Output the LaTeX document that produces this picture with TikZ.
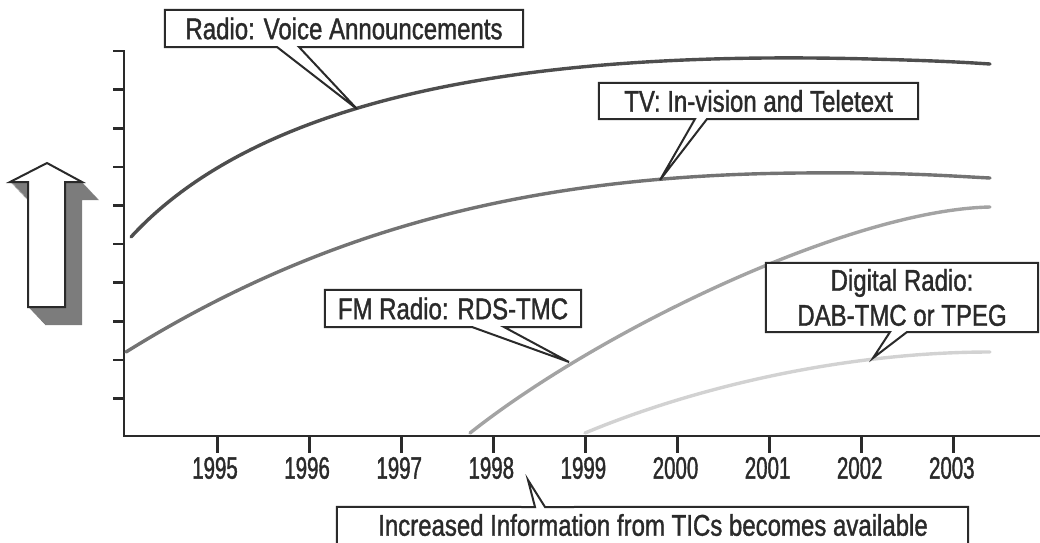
\documentclass[tikz,border=0pt]{standalone}
\usepackage{fontspec}
\setmainfont{Liberation Sans}[FakeStretch=0.8, FakeBold=1.2]
\newfontfamily\yearfont{Liberation Sans}[FakeStretch=0.66, FakeBold=1.2]
\definecolor{ink}{HTML}{2A2A2A}
\definecolor{cradio}{HTML}{4E4E4E}
\definecolor{ctv}{HTML}{737373}
\definecolor{cfm}{HTML}{A3A3A3}
\definecolor{cdab}{HTML}{D2D2D2}
\definecolor{shadowgray}{HTML}{7C7C7C}
\tikzset{
  axisline/.style={line width=2.6pt, draw=ink},
  ytick/.style={line width=2.6pt, draw=ink},
  xtick/.style={line width=3pt, draw=ink},
  curve/.style={line width=3.4pt, line cap=round},
  boxlabel/.style={draw=none, inner sep=0pt, font=\fontsize{30}{33}\selectfont, text=ink, align=center},
  calloutshape/.style={draw=ink, fill=white, line width=2pt, line join=miter},
  yearlabel/.style={inner sep=0pt, font=\yearfont\fontsize{31}{33}\selectfont, text=ink},
}
\begin{document}
\begin{tikzpicture}[x=1pt, y=-1pt]
\useasboundingbox (0,0) rectangle (1040,542);
% shadowed arrow
\foreach \k in {0,0.5,...,17}{
  \fill[shadowgray] ({47+\k},{163+\k*18/17}) -- ({82+\k},{182+\k*18/17}) -- ({65+\k},{182+\k*18/17}) -- ({65+\k},{307+\k*18/17}) -- ({28+\k},{307+\k*18/17}) -- ({28+\k},{182+\k*18/17}) -- ({10+\k},{182+\k*18/17}) -- cycle;
}
\draw[fill=white, draw=ink, line width=2pt, line join=miter] (47,163) -- (82,182) -- (65,182) -- (65,307) -- (28,307) -- (28,182) -- (10,182) -- cycle;
% axes
\coordinate (ytop) at (124,51);
\coordinate (origin) at (124,436);
\coordinate (xend) at (1040,436);
\draw[axisline, line join=miter] (113,51) -- (ytop) -- (origin) -- (xend);
\foreach \k in {1,...,9}{
  \draw[ytick] (113,{51+38.6*\k}) -- (124,{51+38.6*\k});
}
\foreach \yr [count=\i from 0] in {1995,1996,1997,1998,1999,2000,2001,2002,2003}{
  \draw[xtick] ({217+92.1*\i},436) -- ({217+92.1*\i},453);
  \node[yearlabel] (y\yr) at ({215+92.1*\i},468) {\yr};
}
% curves
\draw[curve, draw=cradio] (131,237) .. controls (280,75) and (600,52) .. (870,59) .. controls (930,60.5) and (960,62) .. (990,64);
\draw[curve, draw=ctv] (126,352) .. controls (330,225) and (540,175) .. (800,173) .. controls (900,172) and (950,176) .. (990,178);
\draw[curve, draw=cfm] (470,433) .. controls (600,330) and (850,210) .. (990,207);
\draw[curve, draw=cdab] (585,433) .. controls (700,385) and (850,352) .. (990,352);
% callout: Radio
\node[boxlabel, minimum width=358pt, minimum height=37pt] (rv) at (344,28.5) {};
\coordinate (rvtip) at (357,109);
\draw[calloutshape] (rv.north west) -- (rv.north east) -- (rv.south east) -- (299,47) -- (rvtip) -- (277,47) -- (rv.south west) -- cycle;
\node[boxlabel] at (rv.center) {Radio: Voice Announcements};
% callout: TV
\node[boxlabel, minimum width=319pt, minimum height=36pt] (tv) at (758.5,101) {};
\coordinate (tvtip) at (660,180);
\draw[calloutshape] (tv.north west) -- (tv.north east) -- (tv.south east) -- (707,119) -- (tvtip) -- (695,119) -- (tv.south west) -- cycle;
\node[boxlabel] at (tv.center) {TV: In-vision and Teletext};
% callout: FM
\node[boxlabel, minimum width=256pt, minimum height=37pt] (fm) at (453,308.5) {};
\coordinate (fmtip) at (569,362);
\draw[calloutshape] (fm.north west) -- (fm.north east) -- (fm.south east) -- (504,327) -- (fmtip) -- (472,327) -- (fm.south west) -- cycle;
\node[boxlabel] at (fm.center) {FM Radio: RDS-TMC};
% callout: Digital
\node[boxlabel, minimum width=272pt, minimum height=69pt] (dab) at (902,297.5) {};
\coordinate (dabtip) at (873,358);
\draw[calloutshape] (dab.north west) -- (dab.north east) -- (dab.south east) -- (907,332) -- (dabtip) -- (890,332) -- (dab.south west) -- cycle;
\node[boxlabel, font=\fontsize{30}{35}\selectfont] at (dab.center) {Digital Radio:\\DAB-TMC or TPEG};
% callout: bottom
\node[boxlabel, minimum width=631pt, minimum height=44pt] (tic) at (652.5,529) {};
\coordinate (tictip) at (528,480);
\draw[calloutshape] (tic.south west) -- (tic.north west) -- (535,507) -- (tictip) -- (545,507) -- (tic.north east) -- (tic.south east);
\node[boxlabel] at (653,525) {Increased Information from TICs becomes available};
\end{tikzpicture}
\end{document}
